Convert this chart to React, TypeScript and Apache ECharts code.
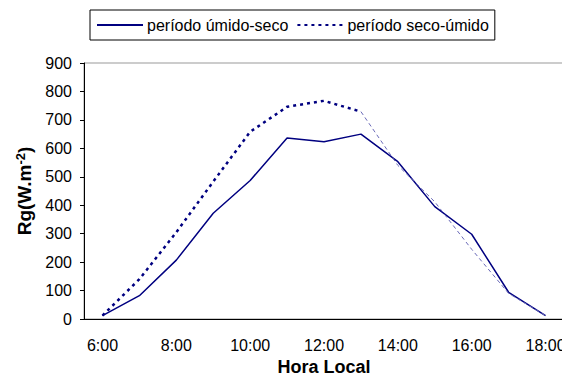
import React, { useEffect, useRef } from "react";
import * as echarts from "echarts";

const hours = ["6:00", "7:00", "8:00", "9:00", "10:00", "11:00", "12:00", "13:00", "14:00", "15:00", "16:00", "17:00", "18:00"];
const umidoSeco = [12, 82, 207, 372, 487, 636, 623, 650, 553, 395, 298, 94, 12];
const secoUmido = [12, 140, 305, 483, 658, 746, 767, 729, 540, 412, 245, 90, 12];
const yTicks = { min: 0, max: 900, interval: 100 };
const seriesNames = ["período úmido-seco", "período seco-úmido"];
const splitIndex = 7;

export default function App() {
  const ref = useRef<HTMLDivElement>(null);
  useEffect(() => {
    if (!ref.current) return;
    const chart = echarts.init(ref.current, null, { renderer: "svg" });
    const firstPart = secoUmido.map((v, i) => (i <= splitIndex ? v : "-"));
    const secondPart = secoUmido.map((v, i) => (i >= splitIndex ? v : "-"));
    const font = "Liberation Sans, Arial, sans-serif";
    chart.setOption({
      animation: false,
      textStyle: { fontFamily: font },
      legend: {
        data: seriesNames,
        left: 90,
        top: 10,
        padding: [7, 6, 7, 6],
        itemWidth: 46,
        itemHeight: 10,
        itemGap: 8,
        borderColor: "#000",
        borderWidth: 1,
        itemStyle: { opacity: 0, borderWidth: 0 },
        textStyle: { fontSize: 16, color: "#000", padding: [0, 0, 0, -1] },
      },
      grid: {
        left: 84,
        right: 6,
        top: 63,
        bottom: 56,
        show: true,
        borderColor: "#999",
        borderWidth: 1,
        containLabel: false,
        outerBoundsMode: "none",
      },
      xAxis: {
        type: "category",
        data: hours,
        boundaryGap: true,
        axisLine: { lineStyle: { color: "#000", width: 1 } },
        axisTick: { interval: 0, length: 5, lineStyle: { color: "#000" } },
        axisLabel: { interval: 1, fontSize: 16, color: "#000", margin: 18 },
        name: "Hora Local",
        nameLocation: "middle",
        nameGap: 36,
        nameTextStyle: { fontSize: 18, fontWeight: "bold", color: "#000" },
      },
      yAxis: {
        type: "value",
        min: yTicks.min,
        max: yTicks.max,
        interval: yTicks.interval,
        splitLine: { show: false },
        axisLine: { show: true, lineStyle: { color: "#000", width: 1 } },
        axisTick: { show: true, length: 4, lineStyle: { color: "#000" } },
        axisLabel: { fontSize: 16, color: "#000", margin: 12 },
        name: "{a|Rg(W.m}{b|-2}{a|)}",
        nameLocation: "middle",
        nameRotate: 90,
        nameGap: 49,
        nameTextStyle: {
          rich: {
            a: { fontSize: 19, fontWeight: "bold", color: "#000", fontFamily: font },
            b: { fontSize: 13, fontWeight: "bold", color: "#000", verticalAlign: "top", padding: [0, 0, 8, 0], fontFamily: font },
          },
        },
      },
      series: [
        {
          name: seriesNames[0],
          type: "line",
          data: umidoSeco,
          symbol: "none",
          lineStyle: { color: "#000080", width: 1.5, type: "solid" },
          itemStyle: { color: "#000080" },
        },
        {
          name: seriesNames[1],
          type: "line",
          data: firstPart,
          symbol: "none",
          lineStyle: { color: "#000080", width: 2.5, type: [3, 4] },
          itemStyle: { color: "#000080" },
        },
        {
          name: seriesNames[1],
          type: "line",
          data: secondPart,
          symbol: "none",
          lineStyle: { color: "#6a6ab8", width: 1, type: [4, 3] },
          itemStyle: { color: "#000080" },
        },
      ],
    });
    return () => chart.dispose();
  }, []);
  return <div ref={ref} style={{ width: 570, height: 375, margin: "-8px -8px 0 -8px" }} />;
}
